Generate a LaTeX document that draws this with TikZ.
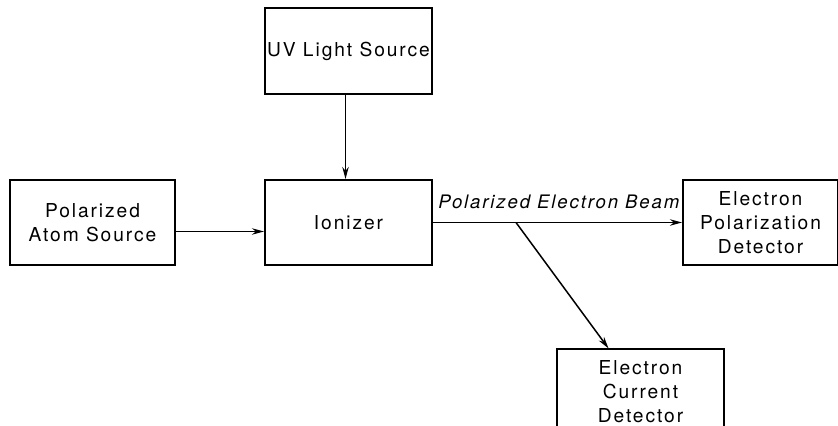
\documentclass[tikz,border=0pt]{standalone}
\usepackage{fontspec}
\setmainfont{TeX Gyre Heros}[LetterSpace=10]
\usepackage{tikz}
\usetikzlibrary{positioning, arrows.meta}

\begin{document}
\begin{tikzpicture}[
  stage/.style={rectangle, draw=black, line width=1pt, align=center,
    inner sep=1pt, minimum width=83.5pt, minimum height=42.5pt,
    font=\fontsize{9.6pt}{12pt}\selectfont},
  flow/.style={-{Stealth[length=6pt, width=3.2pt]}, line width=0.75pt},
  beamtext/.style={font=\fontsize{9.3pt}{12pt}\selectfont\itshape, inner sep=0pt}
]
  \node[stage] (ionizer) {Ionizer};
  \useasboundingbox (-174.25pt,-101.75pt) rectangle (244.75pt,111.25pt);
  \clip (-174.25pt,-101.75pt) rectangle (244.75pt,111.25pt);

  \node[stage, minimum width=82.5pt, left=44pt of ionizer] (atomsrc) {Polarized\\Atom Source};
  \node[stage, minimum height=43pt, above=42pt of ionizer] (uvsrc) {UV Light Source};
  \node[stage, minimum width=77.5pt, right=124.5pt of ionizer] (poldet) {Electron\\Polarization\\Detector};
  \coordinate[right=41.5pt of ionizer.east] (split);
  \node[stage, anchor=north west, below right=63pt and 20pt of split] (curdet) {Electron\\Current\\Detector};

  \draw[flow] ([yshift=-4.5pt]atomsrc.east) -- ([yshift=-4.5pt]ionizer.west);
  \draw[flow] ([xshift=-1.5pt]uvsrc.south) -- ([xshift=-1.5pt]ionizer.north);
  \draw[flow] (ionizer.east) -- (ionizer.east -| poldet.west);
  \draw[flow] (split) -- (curdet);

  \node[beamtext, anchor=base west] (beamlabel) at ([xshift=2.5pt, yshift=7pt]ionizer.east) {Polarized Electron Beam};
\end{tikzpicture}
\end{document}
